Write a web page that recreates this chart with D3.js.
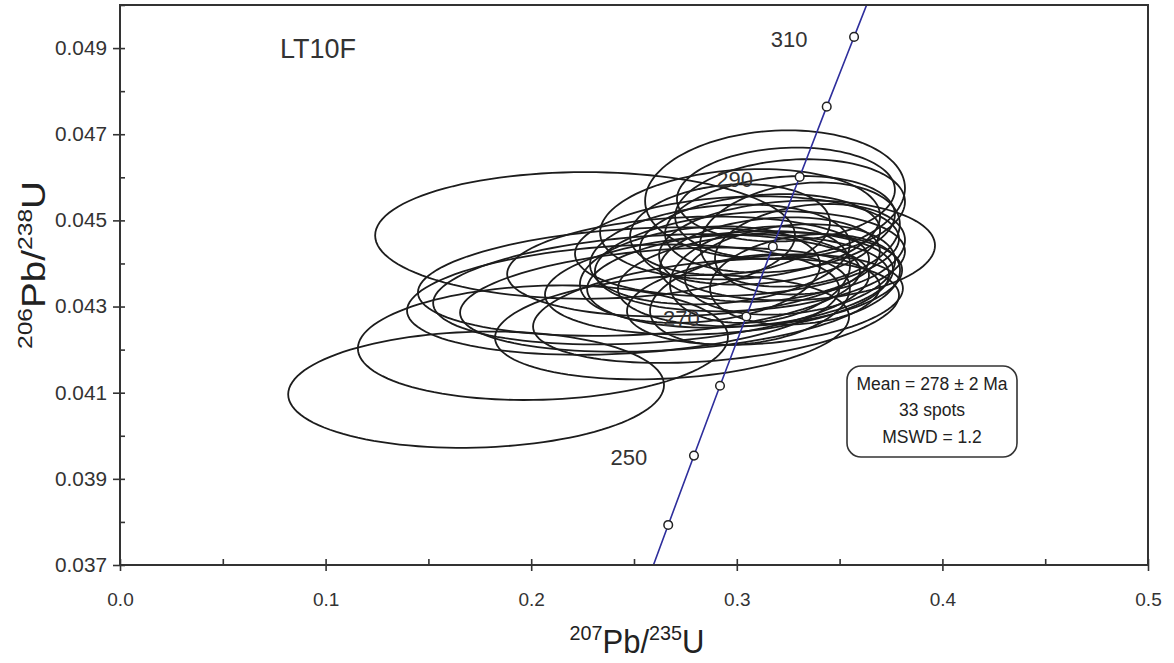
<!DOCTYPE html>
<html lang="en">
<head>
    <meta charset="UTF-8">
    <title>LT10F U-Pb concordia</title>
    <script src="https://cdn.jsdelivr.net/npm/d3@7"></script>
    <style>
        body {
            margin: 0;
            background: #fff;
            font-family: 'Liberation Sans', Arial, sans-serif;
        }
        .axis path { display: none; }
        .axis line { stroke: #333; stroke-width: 1.6px; }
        .axis text { fill: #333; }
        .ellipse { fill: none; stroke: #1c1c1c; stroke-width: 1.8px; }
        .concordia { fill: none; stroke: #2e2e9c; stroke-width: 1.6px; }
        .age-dot { fill: #fff; stroke: #222; stroke-width: 1.5px; }
    </style>
</head>
<body>
<div id="chart"></div>
<script>
    // concordia ages (Ma) and their ratios
    const concAges = [230, 240, 250, 260, 270, 280, 290, 300, 310, 320];
    const conc207 = [0.25422, 0.26664, 0.27917, 0.29183, 0.30462, 0.31753, 0.33057, 0.34374, 0.35704, 0.37047];
    const conc206 = [0.03632, 0.03793, 0.03954, 0.04116, 0.04277, 0.04439, 0.04601, 0.04764, 0.04926, 0.05089];
    const markedAges = [240, 250, 260, 270, 280, 290, 300, 310];
    const labelledAges = [250, 270, 290, 310];

    // spot analyses: 207Pb/235U, 1s, 206Pb/238U, 1s, rho (as drawn)
    const pb207 = [0.1732, 0.2057, 0.2262, 0.2447, 0.2524, 0.2583, 0.2675, 0.2685, 0.2763, 0.2899, 0.2904,
                   0.3001, 0.3016, 0.3064, 0.3113, 0.3137, 0.3186, 0.3239, 0.3293, 0.3113, 0.3161, 0.3210,
                   0.3259, 0.3016, 0.2918, 0.2821, 0.3356, 0.3064, 0.3259, 0.3113, 0.3332, 0.2967, 0.3307];
    const pb207Err = [0.0914, 0.0900, 0.1021, 0.1051, 0.1075, 0.1060, 0.1021, 0.0861, 0.0880, 0.0890, 0.0837,
                      0.0788, 0.0744, 0.0754, 0.0691, 0.0671, 0.0632, 0.0530, 0.0671, 0.0584, 0.0535, 0.0559,
                      0.0511, 0.0681, 0.0632, 0.0584, 0.0462, 0.0486, 0.0559, 0.0438, 0.0462, 0.0486, 0.0486];
    const pb206 = [0.04107, 0.04216, 0.04465, 0.04316, 0.04358, 0.04340, 0.04316, 0.04252, 0.04393, 0.04290, 0.04351,
                   0.04440, 0.04363, 0.04405, 0.04363, 0.04316, 0.04560, 0.04560, 0.04430, 0.04456, 0.04409, 0.04491,
                   0.04386, 0.04491, 0.04421, 0.04374, 0.04433, 0.04316, 0.04526, 0.04374, 0.04363, 0.04479, 0.04467];
    const pb206Err = [0.00135, 0.00133, 0.00147, 0.00128, 0.00126, 0.00128, 0.00121, 0.00121, 0.00116, 0.00121, 0.00116,
                      0.00116, 0.00112, 0.00116, 0.00109, 0.00105, 0.00149, 0.00109, 0.00116, 0.00105, 0.00098, 0.00112,
                      0.00105, 0.00128, 0.00116, 0.00112, 0.00105, 0.00105, 0.00116, 0.00112, 0.00105, 0.00105, 0.00121];
    const rho = [0.08, 0.1, 0.0, 0.2, 0.2, 0.25, 0.25, 0.2, 0.15, 0.3, 0.2,
                 0.15, 0.2, 0.2, 0.2, 0.25, 0.1, 0.1, 0.1, 0.2, 0.2, 0.2,
                 0.2, 0.15, 0.2, 0.2, 0.2, 0.25, 0.15, 0.2, 0.2, 0.15, 0.2];

    const xMajor = [0, 0.1, 0.2, 0.3, 0.4, 0.5];
    const xMinor = [0, 0.05, 0.1, 0.15, 0.2, 0.25, 0.3, 0.35, 0.4, 0.45, 0.5];
    const yMajor = [0.037, 0.039, 0.041, 0.043, 0.045, 0.047, 0.049];
    const yMinor = [0.037, 0.038, 0.039, 0.040, 0.041, 0.042, 0.043, 0.044, 0.045, 0.046, 0.047, 0.048, 0.049, 0.050];
    const statLines = ['Mean = 278 \u00b1 2 Ma', '33 spots', 'MSWD = 1.2'];
    const sampleName = 'LT10F';

    const width = 1174, height = 663;
    const margin = { top: 5, right: 26, bottom: 98, left: 120 };

    const svg = d3.select('#chart').append('svg')
        .attr('width', width)
        .attr('height', height);

    const x = d3.scaleLinear().domain([0, 0.5]).range([margin.left, width - margin.right]);
    const y = d3.scaleLinear().domain([0.037, 0.050]).range([height - margin.bottom, margin.top]);

    svg.append('defs').append('clipPath').attr('id', 'plot-clip')
        .append('rect')
        .attr('x', x(0)).attr('y', y(0.050))
        .attr('width', x(0.5) - x(0)).attr('height', y(0.037) - y(0.050));

    const plot = svg.append('g').attr('clip-path', 'url(#plot-clip)');

    // error ellipses
    const steps = d3.range(0, 121).map(i => i / 120 * 2 * Math.PI);
    const ellipseLine = d3.line().x(d => x(d[0])).y(d => y(d[1])).curve(d3.curveLinearClosed);
    pb207.forEach((cx, i) => {
        const sx = pb207Err[i], sy = pb206Err[i], r = rho[i];
        const pts = steps.map(t => [
            cx + sx * Math.cos(t),
            pb206[i] + sy * (r * Math.cos(t) + Math.sqrt(1 - r * r) * Math.sin(t))
        ]);
        plot.append('path').attr('class', 'ellipse').attr('d', ellipseLine(pts));
    });

    // concordia curve
    const concPts = concAges.map((a, i) => [conc207[i], conc206[i]]);
    plot.append('path')
        .attr('class', 'concordia')
        .attr('d', d3.line().x(d => x(d[0])).y(d => y(d[1])).curve(d3.curveMonotoneX)(concPts));

    plot.selectAll('.age-dot')
        .data(markedAges)
        .enter()
        .append('circle')
        .attr('class', 'age-dot')
        .attr('r', 4.3)
        .attr('cx', a => x(conc207[concAges.indexOf(a)]))
        .attr('cy', a => y(conc206[concAges.indexOf(a)]));

    svg.selectAll('.age-label')
        .data(labelledAges)
        .enter()
        .append('text')
        .attr('class', 'age-label')
        .attr('x', a => x(conc207[concAges.indexOf(a)]) - 65)
        .attr('y', a => y(conc206[concAges.indexOf(a)]) + 4)
        .attr('text-anchor', 'middle')
        .attr('dominant-baseline', 'middle')
        .style('font-size', '22px')
        .style('fill', '#333')
        .text(a => a);

    // axes: major ticks cross the frame, minor ticks point inward
    const bottom = y(0.037), left = x(0);
    svg.append('g').attr('class', 'axis')
        .attr('transform', `translate(0,${bottom})`)
        .call(d3.axisBottom(x).tickValues(xMajor).tickSize(6).tickPadding(22).tickFormat(d3.format('.1f')))
        .selectAll('text')
        .style('font-size', '19px');
    svg.append('g').attr('class', 'axis')
        .attr('transform', `translate(0,${bottom})`)
        .call(d3.axisBottom(x).tickValues(xMinor).tickSize(-6).tickFormat(''));

    svg.append('g').attr('class', 'axis')
        .attr('transform', `translate(${left},0)`)
        .call(d3.axisLeft(y).tickValues(yMajor).tickSize(7).tickPadding(6).tickFormat(d3.format('.3f')))
        .selectAll('text')
        .style('font-size', '20px')
        .attr('textLength', 52)
        .attr('lengthAdjust', 'spacingAndGlyphs');
    svg.append('g').attr('class', 'axis')
        .attr('transform', `translate(${left},0)`)
        .call(d3.axisLeft(y).tickValues(yMinor).tickSize(-5).tickFormat(''));

    // frame
    svg.append('rect')
        .attr('x', x(0)).attr('y', y(0.050))
        .attr('width', x(0.5) - x(0)).attr('height', y(0.037) - y(0.050))
        .attr('fill', 'none').attr('stroke', '#333').attr('stroke-width', 2);

    // axis titles
    const xt = svg.append('text')
        .attr('x', (x(0) + x(0.5)) / 2 + 3)
        .attr('y', 653)
        .attr('text-anchor', 'middle')
        .attr('textLength', 135)
        .attr('lengthAdjust', 'spacingAndGlyphs')
        .style('font-size', '33px')
        .style('fill', '#222');
    xt.append('tspan').style('font-size', '21px').attr('baseline-shift', '60%').text('207');
    xt.append('tspan').text('Pb/');
    xt.append('tspan').style('font-size', '21px').attr('baseline-shift', '60%').text('235');
    xt.append('tspan').text('U');

    const yt = svg.append('text')
        .attr('transform', `translate(45,${(y(0.037) + y(0.050)) / 2 - 20}) rotate(-90)`)
        .attr('text-anchor', 'middle')
        .attr('textLength', 168)
        .attr('lengthAdjust', 'spacingAndGlyphs')
        .style('font-size', '33px')
        .style('fill', '#222');
    yt.append('tspan').style('font-size', '21px').attr('baseline-shift', '60%').text('206');
    yt.append('tspan').text('Pb/');
    yt.append('tspan').style('font-size', '21px').attr('baseline-shift', '60%').text('238');
    yt.append('tspan').text('U');

    // sample name
    svg.append('text')
        .attr('x', 280).attr('y', 58)
        .style('font-size', '27px')
        .style('fill', '#333')
        .text(sampleName);

    // stats box
    const box = svg.append('g').attr('transform', 'translate(847,366)');
    box.append('rect')
        .attr('width', 170).attr('height', 91)
        .attr('rx', 14).attr('ry', 14)
        .attr('fill', '#fff').attr('stroke', '#333').attr('stroke-width', 1.6);
    box.selectAll('text')
        .data(statLines)
        .enter()
        .append('text')
        .attr('x', 85)
        .attr('y', (d, i) => 19 + i * 26.5)
        .attr('text-anchor', 'middle')
        .attr('dominant-baseline', 'middle')
        .style('font-size', '17.5px')
        .style('fill', '#222')
        .text(d => d);
</script>
</body>
</html>
